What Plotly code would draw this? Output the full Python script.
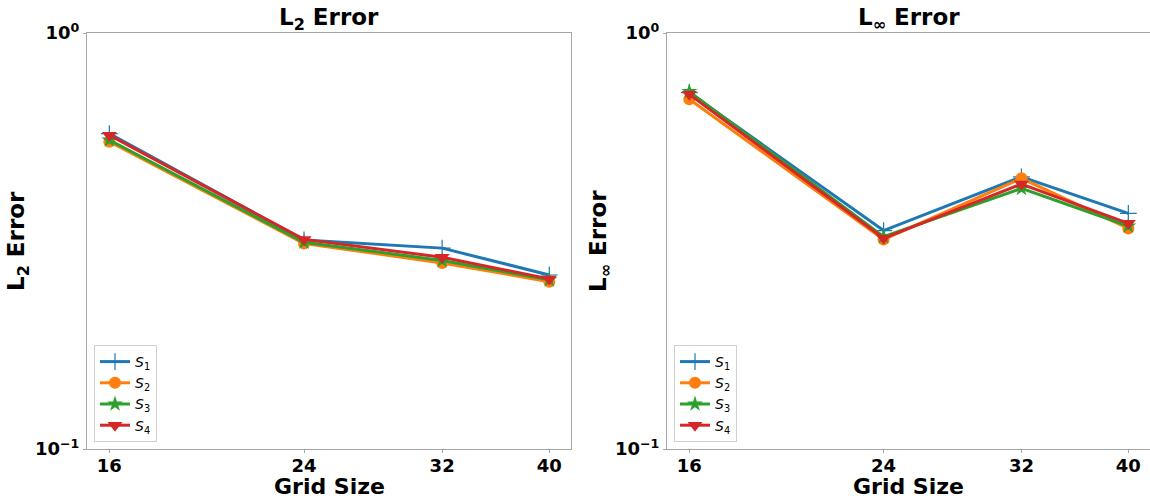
import plotly.graph_objects as go

grid_sizes = [16, 24, 32, 40]
series_names = ["<i>S</i><sub>1</sub>", "<i>S</i><sub>2</sub>", "<i>S</i><sub>3</sub>", "<i>S</i><sub>4</sub>"]

l2_s1 = [0.573, 0.318, 0.304, 0.262]
l2_s2 = [0.548, 0.312, 0.280, 0.2525]
l2_s3 = [0.553, 0.314, 0.284, 0.255]
l2_s4 = [0.568, 0.319, 0.289, 0.2564]

linf_s1 = [0.719, 0.335, 0.451, 0.3685]
linf_s2 = [0.693, 0.319, 0.4475, 0.339]
linf_s3 = [0.723, 0.324, 0.423, 0.3436]
linf_s4 = [0.712, 0.321, 0.4335, 0.3487]

y_tick_vals = [0.1, 1]
y_tick_text = ["10<sup>−1</sup>", "10<sup>0</sup>"]

colors = ["#1f77b4", "#ff7f0e", "#2ca02c", "#d62728"]
markers = [
    dict(symbol="cross-thin", size=12, line=dict(width=1.2, color=colors[0])),
    dict(symbol="circle", size=12),
    dict(symbol="star", size=12),
    dict(symbol="triangle-down", size=13),
]

fig = go.Figure()

left_data = [l2_s1, l2_s2, l2_s3, l2_s4]
right_data = [linf_s1, linf_s2, linf_s3, linf_s4]

for i in range(4):
    m = dict(markers[i])
    m["color"] = colors[i]
    fig.add_trace(go.Scatter(
        x=grid_sizes, y=left_data[i], mode="lines+markers", name=series_names[i],
        line=dict(color=colors[i], width=3), marker=m,
        xaxis="x", yaxis="y", legend="legend"))
for i in range(4):
    m = dict(markers[i])
    m["color"] = colors[i]
    fig.add_trace(go.Scatter(
        x=grid_sizes, y=right_data[i], mode="lines+markers", name=series_names[i],
        line=dict(color=colors[i], width=3), marker=m,
        xaxis="x2", yaxis="y2", legend="legend2"))

W, H = 1150, 498
ml, mr, mt, mb = 87, 0, 33, 49
pw = W - ml - mr
d1 = [0, 484 / pw]
d2 = [(667 - ml) / pw, 1.0]

spine = "#a6a6a6"
font_family = "DejaVu Sans"
tickfont = dict(family=font_family, size=18, color="black", weight="bold")
xrange = [1.1839, 1.6217]

axis_common = dict(
    type="log", showgrid=False, zeroline=False, showline=True, linecolor=spine,
    linewidth=1.2, mirror=True, ticks="outside", ticklen=3, tickcolor=spine,
    tickfont=tickfont,
)

fig.update_layout(
    width=W, height=H,
    margin=dict(l=ml, r=mr, t=mt, b=mb),
    paper_bgcolor="white", plot_bgcolor="white",
    font=dict(family=font_family, color="black"),
    xaxis=dict(domain=d1, range=xrange, tickvals=grid_sizes, ticktext=[str(g) for g in grid_sizes],
               anchor="y", ticklabelstandoff=-3, **axis_common),
    xaxis2=dict(domain=d2, range=xrange, tickvals=grid_sizes, ticktext=[str(g) for g in grid_sizes],
                anchor="y2", ticklabelstandoff=-3, **axis_common),
    yaxis=dict(domain=[0, 1], range=[-1, 0], tickvals=y_tick_vals, ticktext=y_tick_text,
               anchor="x", **axis_common),
    yaxis2=dict(domain=[0, 1], range=[-1, 0], tickvals=y_tick_vals, ticktext=y_tick_text,
                anchor="x2", **axis_common),
    legend=dict(x=d1[0] + 7 / pw, y=7 / 416, xanchor="left", yanchor="bottom",
                bgcolor="rgba(255,255,255,0.8)", bordercolor="#d0d0d0", borderwidth=1,
                font=dict(family=font_family, size=14), itemwidth=30, tracegroupgap=0),
    legend2=dict(x=d2[0] + 7 / pw, y=7 / 416, xanchor="left", yanchor="bottom",
                 bgcolor="rgba(255,255,255,0.8)", bordercolor="#d0d0d0", borderwidth=1,
                 font=dict(family=font_family, size=14), itemwidth=30, tracegroupgap=0),
    showlegend=True,
)

title_font = dict(family=font_family, size=23, color="black", weight="bold")
xtitle_font = dict(family=font_family, size=22, color="black", weight="bold")
annotations = [
    dict(text="L<sub>2</sub> Error", x=(d1[0] + d1[1]) / 2, y=1, xref="paper", yref="paper",
         xanchor="center", yanchor="bottom", showarrow=False, font=title_font, yshift=-3),
    dict(text="L<sub>∞</sub> Error", x=(d2[0] + d2[1]) / 2, y=1, xref="paper", yref="paper",
         xanchor="center", yanchor="bottom", showarrow=False, font=title_font, yshift=-3),
    dict(text="L<sub>2</sub> Error", x=d1[0], y=0.5, xref="paper", yref="paper",
         xanchor="center", yanchor="middle", showarrow=False, font=title_font, textangle=-90,
         xshift=18 - ml),
    dict(text="L<sub>∞</sub> Error", x=d2[0], y=0.5, xref="paper", yref="paper",
         xanchor="center", yanchor="middle", showarrow=False, font=title_font, textangle=-90,
         xshift=600 - 667),
    dict(text="Grid Size", x=(d1[0] + d1[1]) / 2, y=0, xref="paper", yref="paper",
         xanchor="center", yanchor="middle", showarrow=False, font=xtitle_font, yshift=449 - 486),
    dict(text="Grid Size", x=(d2[0] + d2[1]) / 2, y=0, xref="paper", yref="paper",
         xanchor="center", yanchor="middle", showarrow=False, font=xtitle_font, yshift=449 - 486),
]
fig.update_layout(annotations=annotations)

fig.write_html("out.html")
